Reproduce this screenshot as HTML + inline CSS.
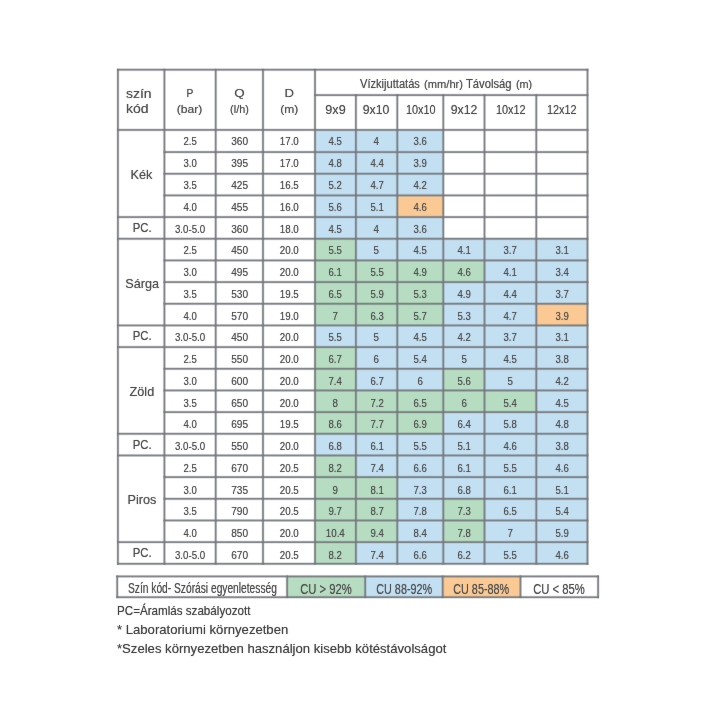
<!DOCTYPE html>
<html lang="hu"><head><meta charset="utf-8"><title>Táblázat</title><style>
html,body{margin:0;padding:0;background:#fff;}
body{width:720px;height:720px;position:relative;overflow:hidden;font-family:"Liberation Sans",sans-serif;color:#525252;}
.r{position:absolute;}
.t{position:absolute;height:20px;line-height:20px;white-space:nowrap;}
.t.c{width:300px;text-align:center;}
.t.l{text-align:left;}
.t span{display:inline-block;text-shadow:0 0 1px rgba(85,85,85,.7);}
.layer{position:absolute;left:0;top:0;width:720px;height:720px;}

.t.c span{transform-origin:50% 50%;}
.t.l span{transform-origin:0 50%;}
.h4 i{font-style:normal;font-size:10.5px;}
</style></head><body>
<svg class="layer g" width="720" height="720" viewBox="0 0 720 720">
<rect class="r" x="315.00" y="129.90" width="40.90" height="21.67" fill="#c3dff2"/>
<rect class="r" x="355.90" y="129.90" width="41.40" height="21.67" fill="#c3dff2"/>
<rect class="r" x="397.30" y="129.90" width="46.00" height="21.67" fill="#c3dff2"/>
<rect class="r" x="315.00" y="152.07" width="40.90" height="21.67" fill="#c3dff2"/>
<rect class="r" x="355.90" y="152.07" width="41.40" height="21.67" fill="#c3dff2"/>
<rect class="r" x="397.30" y="152.07" width="46.00" height="21.67" fill="#c3dff2"/>
<rect class="r" x="315.00" y="173.74" width="40.90" height="21.67" fill="#c3dff2"/>
<rect class="r" x="355.90" y="173.74" width="41.40" height="21.67" fill="#c3dff2"/>
<rect class="r" x="397.30" y="173.74" width="46.00" height="21.67" fill="#c3dff2"/>
<rect class="r" x="315.00" y="195.41" width="40.90" height="21.67" fill="#c3dff2"/>
<rect class="r" x="355.90" y="195.41" width="41.40" height="21.67" fill="#c3dff2"/>
<rect class="r" x="397.30" y="195.41" width="46.00" height="21.67" fill="#fbc993"/>
<rect class="r" x="315.00" y="217.08" width="40.90" height="21.67" fill="#c3dff2"/>
<rect class="r" x="355.90" y="217.08" width="41.40" height="21.67" fill="#c3dff2"/>
<rect class="r" x="397.30" y="217.08" width="46.00" height="21.67" fill="#c3dff2"/>
<rect class="r" x="315.00" y="238.75" width="40.90" height="21.67" fill="#b6ddc1"/>
<rect class="r" x="355.90" y="238.75" width="41.40" height="21.67" fill="#c3dff2"/>
<rect class="r" x="397.30" y="238.75" width="46.00" height="21.67" fill="#c3dff2"/>
<rect class="r" x="443.30" y="238.75" width="41.20" height="21.67" fill="#c3dff2"/>
<rect class="r" x="484.50" y="238.75" width="51.80" height="21.67" fill="#c3dff2"/>
<rect class="r" x="536.30" y="238.75" width="51.20" height="21.67" fill="#c3dff2"/>
<rect class="r" x="315.00" y="260.42" width="40.90" height="21.67" fill="#b6ddc1"/>
<rect class="r" x="355.90" y="260.42" width="41.40" height="21.67" fill="#b6ddc1"/>
<rect class="r" x="397.30" y="260.42" width="46.00" height="21.67" fill="#b6ddc1"/>
<rect class="r" x="443.30" y="260.42" width="41.20" height="21.67" fill="#b6ddc1"/>
<rect class="r" x="484.50" y="260.42" width="51.80" height="21.67" fill="#c3dff2"/>
<rect class="r" x="536.30" y="260.42" width="51.20" height="21.67" fill="#c3dff2"/>
<rect class="r" x="315.00" y="282.09" width="40.90" height="21.67" fill="#b6ddc1"/>
<rect class="r" x="355.90" y="282.09" width="41.40" height="21.67" fill="#b6ddc1"/>
<rect class="r" x="397.30" y="282.09" width="46.00" height="21.67" fill="#b6ddc1"/>
<rect class="r" x="443.30" y="282.09" width="41.20" height="21.67" fill="#c3dff2"/>
<rect class="r" x="484.50" y="282.09" width="51.80" height="21.67" fill="#c3dff2"/>
<rect class="r" x="536.30" y="282.09" width="51.20" height="21.67" fill="#c3dff2"/>
<rect class="r" x="315.00" y="303.76" width="40.90" height="21.67" fill="#b6ddc1"/>
<rect class="r" x="355.90" y="303.76" width="41.40" height="21.67" fill="#b6ddc1"/>
<rect class="r" x="397.30" y="303.76" width="46.00" height="21.67" fill="#b6ddc1"/>
<rect class="r" x="443.30" y="303.76" width="41.20" height="21.67" fill="#c3dff2"/>
<rect class="r" x="484.50" y="303.76" width="51.80" height="21.67" fill="#c3dff2"/>
<rect class="r" x="536.30" y="303.76" width="51.20" height="21.67" fill="#fbc993"/>
<rect class="r" x="315.00" y="325.43" width="40.90" height="21.67" fill="#c3dff2"/>
<rect class="r" x="355.90" y="325.43" width="41.40" height="21.67" fill="#c3dff2"/>
<rect class="r" x="397.30" y="325.43" width="46.00" height="21.67" fill="#c3dff2"/>
<rect class="r" x="443.30" y="325.43" width="41.20" height="21.67" fill="#c3dff2"/>
<rect class="r" x="484.50" y="325.43" width="51.80" height="21.67" fill="#c3dff2"/>
<rect class="r" x="536.30" y="325.43" width="51.20" height="21.67" fill="#c3dff2"/>
<rect class="r" x="315.00" y="347.10" width="40.90" height="21.67" fill="#b6ddc1"/>
<rect class="r" x="355.90" y="347.10" width="41.40" height="21.67" fill="#c3dff2"/>
<rect class="r" x="397.30" y="347.10" width="46.00" height="21.67" fill="#c3dff2"/>
<rect class="r" x="443.30" y="347.10" width="41.20" height="21.67" fill="#c3dff2"/>
<rect class="r" x="484.50" y="347.10" width="51.80" height="21.67" fill="#c3dff2"/>
<rect class="r" x="536.30" y="347.10" width="51.20" height="21.67" fill="#c3dff2"/>
<rect class="r" x="315.00" y="368.77" width="40.90" height="21.67" fill="#b6ddc1"/>
<rect class="r" x="355.90" y="368.77" width="41.40" height="21.67" fill="#c3dff2"/>
<rect class="r" x="397.30" y="368.77" width="46.00" height="21.67" fill="#c3dff2"/>
<rect class="r" x="443.30" y="368.77" width="41.20" height="21.67" fill="#b6ddc1"/>
<rect class="r" x="484.50" y="368.77" width="51.80" height="21.67" fill="#c3dff2"/>
<rect class="r" x="536.30" y="368.77" width="51.20" height="21.67" fill="#c3dff2"/>
<rect class="r" x="315.00" y="390.44" width="40.90" height="21.67" fill="#b6ddc1"/>
<rect class="r" x="355.90" y="390.44" width="41.40" height="21.67" fill="#b6ddc1"/>
<rect class="r" x="397.30" y="390.44" width="46.00" height="21.67" fill="#b6ddc1"/>
<rect class="r" x="443.30" y="390.44" width="41.20" height="21.67" fill="#b6ddc1"/>
<rect class="r" x="484.50" y="390.44" width="51.80" height="21.67" fill="#b6ddc1"/>
<rect class="r" x="536.30" y="390.44" width="51.20" height="21.67" fill="#c3dff2"/>
<rect class="r" x="315.00" y="412.11" width="40.90" height="21.67" fill="#b6ddc1"/>
<rect class="r" x="355.90" y="412.11" width="41.40" height="21.67" fill="#b6ddc1"/>
<rect class="r" x="397.30" y="412.11" width="46.00" height="21.67" fill="#b6ddc1"/>
<rect class="r" x="443.30" y="412.11" width="41.20" height="21.67" fill="#c3dff2"/>
<rect class="r" x="484.50" y="412.11" width="51.80" height="21.67" fill="#c3dff2"/>
<rect class="r" x="536.30" y="412.11" width="51.20" height="21.67" fill="#c3dff2"/>
<rect class="r" x="315.00" y="433.78" width="40.90" height="21.67" fill="#c3dff2"/>
<rect class="r" x="355.90" y="433.78" width="41.40" height="21.67" fill="#c3dff2"/>
<rect class="r" x="397.30" y="433.78" width="46.00" height="21.67" fill="#c3dff2"/>
<rect class="r" x="443.30" y="433.78" width="41.20" height="21.67" fill="#c3dff2"/>
<rect class="r" x="484.50" y="433.78" width="51.80" height="21.67" fill="#c3dff2"/>
<rect class="r" x="536.30" y="433.78" width="51.20" height="21.67" fill="#c3dff2"/>
<rect class="r" x="315.00" y="455.45" width="40.90" height="21.67" fill="#b6ddc1"/>
<rect class="r" x="355.90" y="455.45" width="41.40" height="21.67" fill="#c3dff2"/>
<rect class="r" x="397.30" y="455.45" width="46.00" height="21.67" fill="#c3dff2"/>
<rect class="r" x="443.30" y="455.45" width="41.20" height="21.67" fill="#c3dff2"/>
<rect class="r" x="484.50" y="455.45" width="51.80" height="21.67" fill="#c3dff2"/>
<rect class="r" x="536.30" y="455.45" width="51.20" height="21.67" fill="#c3dff2"/>
<rect class="r" x="315.00" y="477.12" width="40.90" height="21.67" fill="#b6ddc1"/>
<rect class="r" x="355.90" y="477.12" width="41.40" height="21.67" fill="#b6ddc1"/>
<rect class="r" x="397.30" y="477.12" width="46.00" height="21.67" fill="#c3dff2"/>
<rect class="r" x="443.30" y="477.12" width="41.20" height="21.67" fill="#c3dff2"/>
<rect class="r" x="484.50" y="477.12" width="51.80" height="21.67" fill="#c3dff2"/>
<rect class="r" x="536.30" y="477.12" width="51.20" height="21.67" fill="#c3dff2"/>
<rect class="r" x="315.00" y="498.79" width="40.90" height="21.67" fill="#b6ddc1"/>
<rect class="r" x="355.90" y="498.79" width="41.40" height="21.67" fill="#b6ddc1"/>
<rect class="r" x="397.30" y="498.79" width="46.00" height="21.67" fill="#c3dff2"/>
<rect class="r" x="443.30" y="498.79" width="41.20" height="21.67" fill="#b6ddc1"/>
<rect class="r" x="484.50" y="498.79" width="51.80" height="21.67" fill="#c3dff2"/>
<rect class="r" x="536.30" y="498.79" width="51.20" height="21.67" fill="#c3dff2"/>
<rect class="r" x="315.00" y="520.46" width="40.90" height="21.67" fill="#b6ddc1"/>
<rect class="r" x="355.90" y="520.46" width="41.40" height="21.67" fill="#b6ddc1"/>
<rect class="r" x="397.30" y="520.46" width="46.00" height="21.67" fill="#c3dff2"/>
<rect class="r" x="443.30" y="520.46" width="41.20" height="21.67" fill="#b6ddc1"/>
<rect class="r" x="484.50" y="520.46" width="51.80" height="21.67" fill="#c3dff2"/>
<rect class="r" x="536.30" y="520.46" width="51.20" height="21.67" fill="#c3dff2"/>
<rect class="r" x="315.00" y="542.13" width="40.90" height="21.67" fill="#b6ddc1"/>
<rect class="r" x="355.90" y="542.13" width="41.40" height="21.67" fill="#c3dff2"/>
<rect class="r" x="397.30" y="542.13" width="46.00" height="21.67" fill="#c3dff2"/>
<rect class="r" x="443.30" y="542.13" width="41.20" height="21.67" fill="#c3dff2"/>
<rect class="r" x="484.50" y="542.13" width="51.80" height="21.67" fill="#c3dff2"/>
<rect class="r" x="536.30" y="542.13" width="51.20" height="21.67" fill="#c3dff2"/>
<rect class="r" x="117.05" y="68.15" width="471.30" height="3.10" fill="#74787c" fill-opacity="0.22"/>
<rect class="r" x="117.05" y="68.85" width="471.30" height="1.70" fill="#74787c" fill-opacity="0.85"/>
<rect class="r" x="314.15" y="93.55" width="274.20" height="3.10" fill="#74787c" fill-opacity="0.22"/>
<rect class="r" x="314.15" y="94.25" width="274.20" height="1.70" fill="#74787c" fill-opacity="0.85"/>
<rect class="r" x="117.05" y="128.35" width="471.30" height="3.10" fill="#74787c" fill-opacity="0.22"/>
<rect class="r" x="117.05" y="129.05" width="471.30" height="1.70" fill="#74787c" fill-opacity="0.85"/>
<rect class="r" x="163.55" y="150.52" width="424.80" height="3.10" fill="#74787c" fill-opacity="0.22"/>
<rect class="r" x="163.55" y="151.22" width="424.80" height="1.70" fill="#74787c" fill-opacity="0.85"/>
<rect class="r" x="163.55" y="172.19" width="424.80" height="3.10" fill="#74787c" fill-opacity="0.22"/>
<rect class="r" x="163.55" y="172.89" width="424.80" height="1.70" fill="#74787c" fill-opacity="0.85"/>
<rect class="r" x="163.55" y="193.86" width="424.80" height="3.10" fill="#74787c" fill-opacity="0.22"/>
<rect class="r" x="163.55" y="194.56" width="424.80" height="1.70" fill="#74787c" fill-opacity="0.85"/>
<rect class="r" x="117.05" y="215.53" width="471.30" height="3.10" fill="#74787c" fill-opacity="0.22"/>
<rect class="r" x="117.05" y="216.23" width="471.30" height="1.70" fill="#74787c" fill-opacity="0.85"/>
<rect class="r" x="117.05" y="237.20" width="471.30" height="3.10" fill="#74787c" fill-opacity="0.22"/>
<rect class="r" x="117.05" y="237.90" width="471.30" height="1.70" fill="#74787c" fill-opacity="0.85"/>
<rect class="r" x="163.55" y="258.87" width="424.80" height="3.10" fill="#74787c" fill-opacity="0.22"/>
<rect class="r" x="163.55" y="259.57" width="424.80" height="1.70" fill="#74787c" fill-opacity="0.85"/>
<rect class="r" x="163.55" y="280.54" width="424.80" height="3.10" fill="#74787c" fill-opacity="0.22"/>
<rect class="r" x="163.55" y="281.24" width="424.80" height="1.70" fill="#74787c" fill-opacity="0.85"/>
<rect class="r" x="163.55" y="302.21" width="424.80" height="3.10" fill="#74787c" fill-opacity="0.22"/>
<rect class="r" x="163.55" y="302.91" width="424.80" height="1.70" fill="#74787c" fill-opacity="0.85"/>
<rect class="r" x="117.05" y="323.88" width="471.30" height="3.10" fill="#74787c" fill-opacity="0.22"/>
<rect class="r" x="117.05" y="324.58" width="471.30" height="1.70" fill="#74787c" fill-opacity="0.85"/>
<rect class="r" x="117.05" y="345.55" width="471.30" height="3.10" fill="#74787c" fill-opacity="0.22"/>
<rect class="r" x="117.05" y="346.25" width="471.30" height="1.70" fill="#74787c" fill-opacity="0.85"/>
<rect class="r" x="163.55" y="367.22" width="424.80" height="3.10" fill="#74787c" fill-opacity="0.22"/>
<rect class="r" x="163.55" y="367.92" width="424.80" height="1.70" fill="#74787c" fill-opacity="0.85"/>
<rect class="r" x="163.55" y="388.89" width="424.80" height="3.10" fill="#74787c" fill-opacity="0.22"/>
<rect class="r" x="163.55" y="389.59" width="424.80" height="1.70" fill="#74787c" fill-opacity="0.85"/>
<rect class="r" x="163.55" y="410.56" width="424.80" height="3.10" fill="#74787c" fill-opacity="0.22"/>
<rect class="r" x="163.55" y="411.26" width="424.80" height="1.70" fill="#74787c" fill-opacity="0.85"/>
<rect class="r" x="117.05" y="432.23" width="471.30" height="3.10" fill="#74787c" fill-opacity="0.22"/>
<rect class="r" x="117.05" y="432.93" width="471.30" height="1.70" fill="#74787c" fill-opacity="0.85"/>
<rect class="r" x="117.05" y="453.90" width="471.30" height="3.10" fill="#74787c" fill-opacity="0.22"/>
<rect class="r" x="117.05" y="454.60" width="471.30" height="1.70" fill="#74787c" fill-opacity="0.85"/>
<rect class="r" x="163.55" y="475.57" width="424.80" height="3.10" fill="#74787c" fill-opacity="0.22"/>
<rect class="r" x="163.55" y="476.27" width="424.80" height="1.70" fill="#74787c" fill-opacity="0.85"/>
<rect class="r" x="163.55" y="497.24" width="424.80" height="3.10" fill="#74787c" fill-opacity="0.22"/>
<rect class="r" x="163.55" y="497.94" width="424.80" height="1.70" fill="#74787c" fill-opacity="0.85"/>
<rect class="r" x="163.55" y="518.91" width="424.80" height="3.10" fill="#74787c" fill-opacity="0.22"/>
<rect class="r" x="163.55" y="519.61" width="424.80" height="1.70" fill="#74787c" fill-opacity="0.85"/>
<rect class="r" x="117.05" y="540.58" width="471.30" height="3.10" fill="#74787c" fill-opacity="0.22"/>
<rect class="r" x="117.05" y="541.28" width="471.30" height="1.70" fill="#74787c" fill-opacity="0.85"/>
<rect class="r" x="117.05" y="562.25" width="471.30" height="3.10" fill="#74787c" fill-opacity="0.22"/>
<rect class="r" x="117.05" y="562.95" width="471.30" height="1.70" fill="#74787c" fill-opacity="0.85"/>
<rect class="r" x="116.35" y="68.85" width="3.10" height="495.80" fill="#74787c" fill-opacity="0.22"/>
<rect class="r" x="117.05" y="68.85" width="1.70" height="495.80" fill="#74787c" fill-opacity="0.85"/>
<rect class="r" x="162.85" y="68.85" width="3.10" height="495.80" fill="#74787c" fill-opacity="0.22"/>
<rect class="r" x="163.55" y="68.85" width="1.70" height="495.80" fill="#74787c" fill-opacity="0.85"/>
<rect class="r" x="214.15" y="68.85" width="3.10" height="495.80" fill="#74787c" fill-opacity="0.22"/>
<rect class="r" x="214.85" y="68.85" width="1.70" height="495.80" fill="#74787c" fill-opacity="0.85"/>
<rect class="r" x="261.45" y="68.85" width="3.10" height="495.80" fill="#74787c" fill-opacity="0.22"/>
<rect class="r" x="262.15" y="68.85" width="1.70" height="495.80" fill="#74787c" fill-opacity="0.85"/>
<rect class="r" x="313.45" y="68.85" width="3.10" height="495.80" fill="#74787c" fill-opacity="0.22"/>
<rect class="r" x="314.15" y="68.85" width="1.70" height="495.80" fill="#74787c" fill-opacity="0.85"/>
<rect class="r" x="354.35" y="94.25" width="3.10" height="470.40" fill="#74787c" fill-opacity="0.22"/>
<rect class="r" x="355.05" y="94.25" width="1.70" height="470.40" fill="#74787c" fill-opacity="0.85"/>
<rect class="r" x="395.75" y="94.25" width="3.10" height="470.40" fill="#74787c" fill-opacity="0.22"/>
<rect class="r" x="396.45" y="94.25" width="1.70" height="470.40" fill="#74787c" fill-opacity="0.85"/>
<rect class="r" x="441.75" y="94.25" width="3.10" height="470.40" fill="#74787c" fill-opacity="0.22"/>
<rect class="r" x="442.45" y="94.25" width="1.70" height="470.40" fill="#74787c" fill-opacity="0.85"/>
<rect class="r" x="482.95" y="94.25" width="3.10" height="470.40" fill="#74787c" fill-opacity="0.22"/>
<rect class="r" x="483.65" y="94.25" width="1.70" height="470.40" fill="#74787c" fill-opacity="0.85"/>
<rect class="r" x="534.75" y="94.25" width="3.10" height="470.40" fill="#74787c" fill-opacity="0.22"/>
<rect class="r" x="535.45" y="94.25" width="1.70" height="470.40" fill="#74787c" fill-opacity="0.85"/>
<rect class="r" x="585.95" y="68.85" width="3.10" height="495.80" fill="#74787c" fill-opacity="0.22"/>
<rect class="r" x="586.65" y="68.85" width="1.70" height="495.80" fill="#74787c" fill-opacity="0.85"/>
<rect class="r" x="287.10" y="576.40" width="78.10" height="20.80" fill="#b6ddc1"/>
<rect class="r" x="365.20" y="576.40" width="77.50" height="20.80" fill="#c3dff2"/>
<rect class="r" x="442.70" y="576.40" width="77.80" height="20.80" fill="#fbc993"/>
<rect class="r" x="116.35" y="574.85" width="482.60" height="3.10" fill="#74787c" fill-opacity="0.22"/>
<rect class="r" x="116.35" y="575.55" width="482.60" height="1.70" fill="#74787c" fill-opacity="0.85"/>
<rect class="r" x="116.35" y="595.65" width="482.60" height="3.10" fill="#74787c" fill-opacity="0.22"/>
<rect class="r" x="116.35" y="596.35" width="482.60" height="1.70" fill="#74787c" fill-opacity="0.85"/>
<rect class="r" x="115.65" y="575.55" width="3.10" height="22.50" fill="#74787c" fill-opacity="0.22"/>
<rect class="r" x="116.35" y="575.55" width="1.70" height="22.50" fill="#74787c" fill-opacity="0.85"/>
<rect class="r" x="285.55" y="575.55" width="3.10" height="22.50" fill="#74787c" fill-opacity="0.22"/>
<rect class="r" x="286.25" y="575.55" width="1.70" height="22.50" fill="#74787c" fill-opacity="0.85"/>
<rect class="r" x="363.65" y="575.55" width="3.10" height="22.50" fill="#74787c" fill-opacity="0.22"/>
<rect class="r" x="364.35" y="575.55" width="1.70" height="22.50" fill="#74787c" fill-opacity="0.85"/>
<rect class="r" x="441.15" y="575.55" width="3.10" height="22.50" fill="#74787c" fill-opacity="0.22"/>
<rect class="r" x="441.85" y="575.55" width="1.70" height="22.50" fill="#74787c" fill-opacity="0.85"/>
<rect class="r" x="518.95" y="575.55" width="3.10" height="22.50" fill="#74787c" fill-opacity="0.22"/>
<rect class="r" x="519.65" y="575.55" width="1.70" height="22.50" fill="#74787c" fill-opacity="0.85"/>
<rect class="r" x="596.55" y="575.55" width="3.10" height="22.50" fill="#74787c" fill-opacity="0.22"/>
<rect class="r" x="597.25" y="575.55" width="1.70" height="22.50" fill="#74787c" fill-opacity="0.85"/>
</svg>
<div class="layer x">
<div class="t l " style="left:125.60px;top:84.12px;font-size:13.5px;"><span style="transform:scaleX(1.034)">szín</span></div>
<div class="t l " style="left:125.60px;top:98.52px;font-size:13.5px;"><span style="transform:scaleX(1.038)">kód</span></div>
<div class="t c " style="left:40.05px;top:82.98px;font-size:11.6px;"><span style="transform:scaleX(0.879)">P</span></div>
<div class="t c " style="left:40.05px;top:99.39px;font-size:11px;"><span style="transform:scaleX(1.102)">(bar)</span></div>
<div class="t c " style="left:89.35px;top:82.98px;font-size:11.6px;"><span style="transform:scaleX(1.153)">Q</span></div>
<div class="t c " style="left:89.35px;top:99.39px;font-size:11px;"><span style="transform:scaleX(0.987)">(l/h)</span></div>
<div class="t c " style="left:139.00px;top:82.98px;font-size:11.6px;"><span style="transform:scaleX(1.134)">D</span></div>
<div class="t c " style="left:139.00px;top:99.39px;font-size:11px;"><span style="transform:scaleX(1.098)">(m)</span></div>
<div class="t l " style="left:359.60px;top:73.84px;font-size:12px;"><span style="transform:scaleX(0.926)">Vízkijuttatás</span></div>
<div class="t l " style="left:423.60px;top:74.36px;font-size:10.5px;"><span style="transform:scaleX(1.062)">(mm/hr)</span></div>
<div class="t l " style="left:465.80px;top:73.84px;font-size:12px;"><span style="transform:scaleX(0.937)">Távolság</span></div>
<div class="t l " style="left:516.00px;top:74.36px;font-size:10.5px;"><span style="transform:scaleX(1.029)">(m)</span></div>
<div class="t c " style="left:185.45px;top:99.90px;font-size:13px;"><span style="transform:scaleX(0.973)">9x9</span></div>
<div class="t c " style="left:226.60px;top:99.90px;font-size:13px;"><span style="transform:scaleX(0.944)">9x10</span></div>
<div class="t c " style="left:270.30px;top:99.90px;font-size:13px;"><span style="transform:scaleX(0.836)">10x10</span></div>
<div class="t c " style="left:313.90px;top:99.90px;font-size:13px;"><span style="transform:scaleX(0.944)">9x12</span></div>
<div class="t c " style="left:360.40px;top:99.90px;font-size:13px;"><span style="transform:scaleX(0.836)">10x12</span></div>
<div class="t c " style="left:411.90px;top:99.90px;font-size:13px;"><span style="transform:scaleX(0.836)">12x12</span></div>
<div class="t c " style="left:40.05px;top:131.48px;font-size:11.6px;"><span style="transform:scaleX(0.827)">2.5</span></div>
<div class="t c " style="left:89.35px;top:131.48px;font-size:11.6px;"><span style="transform:scaleX(0.871)">360</span></div>
<div class="t c " style="left:139.00px;top:131.48px;font-size:11.6px;"><span style="transform:scaleX(0.844)">17.0</span></div>
<div class="t c " style="left:185.45px;top:131.48px;font-size:11.6px;"><span style="transform:scaleX(0.827)">4.5</span></div>
<div class="t c " style="left:226.60px;top:131.48px;font-size:11.6px;"><span style="transform:scaleX(0.840)">4</span></div>
<div class="t c " style="left:270.30px;top:131.48px;font-size:11.6px;"><span style="transform:scaleX(0.827)">3.6</span></div>
<div class="t c " style="left:40.05px;top:153.24px;font-size:11.6px;"><span style="transform:scaleX(0.827)">3.0</span></div>
<div class="t c " style="left:89.35px;top:153.24px;font-size:11.6px;"><span style="transform:scaleX(0.871)">395</span></div>
<div class="t c " style="left:139.00px;top:153.24px;font-size:11.6px;"><span style="transform:scaleX(0.844)">17.0</span></div>
<div class="t c " style="left:185.45px;top:153.24px;font-size:11.6px;"><span style="transform:scaleX(0.827)">4.8</span></div>
<div class="t c " style="left:226.60px;top:153.24px;font-size:11.6px;"><span style="transform:scaleX(0.827)">4.4</span></div>
<div class="t c " style="left:270.30px;top:153.24px;font-size:11.6px;"><span style="transform:scaleX(0.827)">3.9</span></div>
<div class="t c " style="left:40.05px;top:175.00px;font-size:11.6px;"><span style="transform:scaleX(0.827)">3.5</span></div>
<div class="t c " style="left:89.35px;top:175.00px;font-size:11.6px;"><span style="transform:scaleX(0.871)">425</span></div>
<div class="t c " style="left:139.00px;top:175.00px;font-size:11.6px;"><span style="transform:scaleX(0.844)">16.5</span></div>
<div class="t c " style="left:185.45px;top:175.00px;font-size:11.6px;"><span style="transform:scaleX(0.827)">5.2</span></div>
<div class="t c " style="left:226.60px;top:175.00px;font-size:11.6px;"><span style="transform:scaleX(0.827)">4.7</span></div>
<div class="t c " style="left:270.30px;top:175.00px;font-size:11.6px;"><span style="transform:scaleX(0.827)">4.2</span></div>
<div class="t c " style="left:40.05px;top:196.76px;font-size:11.6px;"><span style="transform:scaleX(0.827)">4.0</span></div>
<div class="t c " style="left:89.35px;top:196.76px;font-size:11.6px;"><span style="transform:scaleX(0.871)">455</span></div>
<div class="t c " style="left:139.00px;top:196.76px;font-size:11.6px;"><span style="transform:scaleX(0.844)">16.0</span></div>
<div class="t c " style="left:185.45px;top:196.76px;font-size:11.6px;"><span style="transform:scaleX(0.827)">5.6</span></div>
<div class="t c " style="left:226.60px;top:196.76px;font-size:11.6px;"><span style="transform:scaleX(0.827)">5.1</span></div>
<div class="t c " style="left:270.30px;top:196.76px;font-size:11.6px;"><span style="transform:scaleX(0.827)">4.6</span></div>
<div class="t c " style="left:40.05px;top:218.52px;font-size:11.6px;"><span style="transform:scaleX(0.836)">3.0-5.0</span></div>
<div class="t c " style="left:89.35px;top:218.52px;font-size:11.6px;"><span style="transform:scaleX(0.871)">360</span></div>
<div class="t c " style="left:139.00px;top:218.52px;font-size:11.6px;"><span style="transform:scaleX(0.844)">18.0</span></div>
<div class="t c " style="left:185.45px;top:218.52px;font-size:11.6px;"><span style="transform:scaleX(0.827)">4.5</span></div>
<div class="t c " style="left:226.60px;top:218.52px;font-size:11.6px;"><span style="transform:scaleX(0.840)">4</span></div>
<div class="t c " style="left:270.30px;top:218.52px;font-size:11.6px;"><span style="transform:scaleX(0.827)">3.6</span></div>
<div class="t c " style="left:-8.15px;top:218.09px;font-size:12.2px;"><span style="transform:scaleX(0.930)">PC.</span></div>
<div class="t c " style="left:40.05px;top:240.28px;font-size:11.6px;"><span style="transform:scaleX(0.827)">2.5</span></div>
<div class="t c " style="left:89.35px;top:240.28px;font-size:11.6px;"><span style="transform:scaleX(0.871)">450</span></div>
<div class="t c " style="left:139.00px;top:240.28px;font-size:11.6px;"><span style="transform:scaleX(0.844)">20.0</span></div>
<div class="t c " style="left:185.45px;top:240.28px;font-size:11.6px;"><span style="transform:scaleX(0.827)">5.5</span></div>
<div class="t c " style="left:226.60px;top:240.28px;font-size:11.6px;"><span style="transform:scaleX(0.840)">5</span></div>
<div class="t c " style="left:270.30px;top:240.28px;font-size:11.6px;"><span style="transform:scaleX(0.827)">4.5</span></div>
<div class="t c " style="left:313.90px;top:240.28px;font-size:11.6px;"><span style="transform:scaleX(0.827)">4.1</span></div>
<div class="t c " style="left:360.40px;top:240.28px;font-size:11.6px;"><span style="transform:scaleX(0.827)">3.7</span></div>
<div class="t c " style="left:411.90px;top:240.28px;font-size:11.6px;"><span style="transform:scaleX(0.827)">3.1</span></div>
<div class="t c " style="left:40.05px;top:262.04px;font-size:11.6px;"><span style="transform:scaleX(0.827)">3.0</span></div>
<div class="t c " style="left:89.35px;top:262.04px;font-size:11.6px;"><span style="transform:scaleX(0.871)">495</span></div>
<div class="t c " style="left:139.00px;top:262.04px;font-size:11.6px;"><span style="transform:scaleX(0.844)">20.0</span></div>
<div class="t c " style="left:185.45px;top:262.04px;font-size:11.6px;"><span style="transform:scaleX(0.827)">6.1</span></div>
<div class="t c " style="left:226.60px;top:262.04px;font-size:11.6px;"><span style="transform:scaleX(0.827)">5.5</span></div>
<div class="t c " style="left:270.30px;top:262.04px;font-size:11.6px;"><span style="transform:scaleX(0.827)">4.9</span></div>
<div class="t c " style="left:313.90px;top:262.04px;font-size:11.6px;"><span style="transform:scaleX(0.827)">4.6</span></div>
<div class="t c " style="left:360.40px;top:262.04px;font-size:11.6px;"><span style="transform:scaleX(0.827)">4.1</span></div>
<div class="t c " style="left:411.90px;top:262.04px;font-size:11.6px;"><span style="transform:scaleX(0.827)">3.4</span></div>
<div class="t c " style="left:40.05px;top:283.80px;font-size:11.6px;"><span style="transform:scaleX(0.827)">3.5</span></div>
<div class="t c " style="left:89.35px;top:283.80px;font-size:11.6px;"><span style="transform:scaleX(0.871)">530</span></div>
<div class="t c " style="left:139.00px;top:283.80px;font-size:11.6px;"><span style="transform:scaleX(0.844)">19.5</span></div>
<div class="t c " style="left:185.45px;top:283.80px;font-size:11.6px;"><span style="transform:scaleX(0.827)">6.5</span></div>
<div class="t c " style="left:226.60px;top:283.80px;font-size:11.6px;"><span style="transform:scaleX(0.827)">5.9</span></div>
<div class="t c " style="left:270.30px;top:283.80px;font-size:11.6px;"><span style="transform:scaleX(0.827)">5.3</span></div>
<div class="t c " style="left:313.90px;top:283.80px;font-size:11.6px;"><span style="transform:scaleX(0.827)">4.9</span></div>
<div class="t c " style="left:360.40px;top:283.80px;font-size:11.6px;"><span style="transform:scaleX(0.827)">4.4</span></div>
<div class="t c " style="left:411.90px;top:283.80px;font-size:11.6px;"><span style="transform:scaleX(0.827)">3.7</span></div>
<div class="t c " style="left:40.05px;top:305.56px;font-size:11.6px;"><span style="transform:scaleX(0.827)">4.0</span></div>
<div class="t c " style="left:89.35px;top:305.56px;font-size:11.6px;"><span style="transform:scaleX(0.871)">570</span></div>
<div class="t c " style="left:139.00px;top:305.56px;font-size:11.6px;"><span style="transform:scaleX(0.844)">19.0</span></div>
<div class="t c " style="left:185.45px;top:305.56px;font-size:11.6px;"><span style="transform:scaleX(0.840)">7</span></div>
<div class="t c " style="left:226.60px;top:305.56px;font-size:11.6px;"><span style="transform:scaleX(0.827)">6.3</span></div>
<div class="t c " style="left:270.30px;top:305.56px;font-size:11.6px;"><span style="transform:scaleX(0.827)">5.7</span></div>
<div class="t c " style="left:313.90px;top:305.56px;font-size:11.6px;"><span style="transform:scaleX(0.827)">5.3</span></div>
<div class="t c " style="left:360.40px;top:305.56px;font-size:11.6px;"><span style="transform:scaleX(0.827)">4.7</span></div>
<div class="t c " style="left:411.90px;top:305.56px;font-size:11.6px;"><span style="transform:scaleX(0.827)">3.9</span></div>
<div class="t c " style="left:40.05px;top:327.32px;font-size:11.6px;"><span style="transform:scaleX(0.836)">3.0-5.0</span></div>
<div class="t c " style="left:89.35px;top:327.32px;font-size:11.6px;"><span style="transform:scaleX(0.871)">450</span></div>
<div class="t c " style="left:139.00px;top:327.32px;font-size:11.6px;"><span style="transform:scaleX(0.844)">20.0</span></div>
<div class="t c " style="left:185.45px;top:327.32px;font-size:11.6px;"><span style="transform:scaleX(0.827)">5.5</span></div>
<div class="t c " style="left:226.60px;top:327.32px;font-size:11.6px;"><span style="transform:scaleX(0.840)">5</span></div>
<div class="t c " style="left:270.30px;top:327.32px;font-size:11.6px;"><span style="transform:scaleX(0.827)">4.5</span></div>
<div class="t c " style="left:313.90px;top:327.32px;font-size:11.6px;"><span style="transform:scaleX(0.827)">4.2</span></div>
<div class="t c " style="left:360.40px;top:327.32px;font-size:11.6px;"><span style="transform:scaleX(0.827)">3.7</span></div>
<div class="t c " style="left:411.90px;top:327.32px;font-size:11.6px;"><span style="transform:scaleX(0.827)">3.1</span></div>
<div class="t c " style="left:-8.15px;top:326.44px;font-size:12.2px;"><span style="transform:scaleX(0.930)">PC.</span></div>
<div class="t c " style="left:40.05px;top:349.08px;font-size:11.6px;"><span style="transform:scaleX(0.827)">2.5</span></div>
<div class="t c " style="left:89.35px;top:349.08px;font-size:11.6px;"><span style="transform:scaleX(0.871)">550</span></div>
<div class="t c " style="left:139.00px;top:349.08px;font-size:11.6px;"><span style="transform:scaleX(0.844)">20.0</span></div>
<div class="t c " style="left:185.45px;top:349.08px;font-size:11.6px;"><span style="transform:scaleX(0.827)">6.7</span></div>
<div class="t c " style="left:226.60px;top:349.08px;font-size:11.6px;"><span style="transform:scaleX(0.840)">6</span></div>
<div class="t c " style="left:270.30px;top:349.08px;font-size:11.6px;"><span style="transform:scaleX(0.827)">5.4</span></div>
<div class="t c " style="left:313.90px;top:349.08px;font-size:11.6px;"><span style="transform:scaleX(0.840)">5</span></div>
<div class="t c " style="left:360.40px;top:349.08px;font-size:11.6px;"><span style="transform:scaleX(0.827)">4.5</span></div>
<div class="t c " style="left:411.90px;top:349.08px;font-size:11.6px;"><span style="transform:scaleX(0.827)">3.8</span></div>
<div class="t c " style="left:40.05px;top:370.84px;font-size:11.6px;"><span style="transform:scaleX(0.827)">3.0</span></div>
<div class="t c " style="left:89.35px;top:370.84px;font-size:11.6px;"><span style="transform:scaleX(0.871)">600</span></div>
<div class="t c " style="left:139.00px;top:370.84px;font-size:11.6px;"><span style="transform:scaleX(0.844)">20.0</span></div>
<div class="t c " style="left:185.45px;top:370.84px;font-size:11.6px;"><span style="transform:scaleX(0.827)">7.4</span></div>
<div class="t c " style="left:226.60px;top:370.84px;font-size:11.6px;"><span style="transform:scaleX(0.827)">6.7</span></div>
<div class="t c " style="left:270.30px;top:370.84px;font-size:11.6px;"><span style="transform:scaleX(0.840)">6</span></div>
<div class="t c " style="left:313.90px;top:370.84px;font-size:11.6px;"><span style="transform:scaleX(0.827)">5.6</span></div>
<div class="t c " style="left:360.40px;top:370.84px;font-size:11.6px;"><span style="transform:scaleX(0.840)">5</span></div>
<div class="t c " style="left:411.90px;top:370.84px;font-size:11.6px;"><span style="transform:scaleX(0.827)">4.2</span></div>
<div class="t c " style="left:40.05px;top:392.60px;font-size:11.6px;"><span style="transform:scaleX(0.827)">3.5</span></div>
<div class="t c " style="left:89.35px;top:392.60px;font-size:11.6px;"><span style="transform:scaleX(0.871)">650</span></div>
<div class="t c " style="left:139.00px;top:392.60px;font-size:11.6px;"><span style="transform:scaleX(0.844)">20.0</span></div>
<div class="t c " style="left:185.45px;top:392.60px;font-size:11.6px;"><span style="transform:scaleX(0.840)">8</span></div>
<div class="t c " style="left:226.60px;top:392.60px;font-size:11.6px;"><span style="transform:scaleX(0.827)">7.2</span></div>
<div class="t c " style="left:270.30px;top:392.60px;font-size:11.6px;"><span style="transform:scaleX(0.827)">6.5</span></div>
<div class="t c " style="left:313.90px;top:392.60px;font-size:11.6px;"><span style="transform:scaleX(0.840)">6</span></div>
<div class="t c " style="left:360.40px;top:392.60px;font-size:11.6px;"><span style="transform:scaleX(0.827)">5.4</span></div>
<div class="t c " style="left:411.90px;top:392.60px;font-size:11.6px;"><span style="transform:scaleX(0.827)">4.5</span></div>
<div class="t c " style="left:40.05px;top:414.36px;font-size:11.6px;"><span style="transform:scaleX(0.827)">4.0</span></div>
<div class="t c " style="left:89.35px;top:414.36px;font-size:11.6px;"><span style="transform:scaleX(0.871)">695</span></div>
<div class="t c " style="left:139.00px;top:414.36px;font-size:11.6px;"><span style="transform:scaleX(0.844)">19.5</span></div>
<div class="t c " style="left:185.45px;top:414.36px;font-size:11.6px;"><span style="transform:scaleX(0.827)">8.6</span></div>
<div class="t c " style="left:226.60px;top:414.36px;font-size:11.6px;"><span style="transform:scaleX(0.827)">7.7</span></div>
<div class="t c " style="left:270.30px;top:414.36px;font-size:11.6px;"><span style="transform:scaleX(0.827)">6.9</span></div>
<div class="t c " style="left:313.90px;top:414.36px;font-size:11.6px;"><span style="transform:scaleX(0.827)">6.4</span></div>
<div class="t c " style="left:360.40px;top:414.36px;font-size:11.6px;"><span style="transform:scaleX(0.827)">5.8</span></div>
<div class="t c " style="left:411.90px;top:414.36px;font-size:11.6px;"><span style="transform:scaleX(0.827)">4.8</span></div>
<div class="t c " style="left:40.05px;top:436.12px;font-size:11.6px;"><span style="transform:scaleX(0.836)">3.0-5.0</span></div>
<div class="t c " style="left:89.35px;top:436.12px;font-size:11.6px;"><span style="transform:scaleX(0.871)">550</span></div>
<div class="t c " style="left:139.00px;top:436.12px;font-size:11.6px;"><span style="transform:scaleX(0.844)">20.0</span></div>
<div class="t c " style="left:185.45px;top:436.12px;font-size:11.6px;"><span style="transform:scaleX(0.827)">6.8</span></div>
<div class="t c " style="left:226.60px;top:436.12px;font-size:11.6px;"><span style="transform:scaleX(0.827)">6.1</span></div>
<div class="t c " style="left:270.30px;top:436.12px;font-size:11.6px;"><span style="transform:scaleX(0.827)">5.5</span></div>
<div class="t c " style="left:313.90px;top:436.12px;font-size:11.6px;"><span style="transform:scaleX(0.827)">5.1</span></div>
<div class="t c " style="left:360.40px;top:436.12px;font-size:11.6px;"><span style="transform:scaleX(0.827)">4.6</span></div>
<div class="t c " style="left:411.90px;top:436.12px;font-size:11.6px;"><span style="transform:scaleX(0.827)">3.8</span></div>
<div class="t c " style="left:-8.15px;top:434.79px;font-size:12.2px;"><span style="transform:scaleX(0.930)">PC.</span></div>
<div class="t c " style="left:40.05px;top:457.88px;font-size:11.6px;"><span style="transform:scaleX(0.827)">2.5</span></div>
<div class="t c " style="left:89.35px;top:457.88px;font-size:11.6px;"><span style="transform:scaleX(0.871)">670</span></div>
<div class="t c " style="left:139.00px;top:457.88px;font-size:11.6px;"><span style="transform:scaleX(0.844)">20.5</span></div>
<div class="t c " style="left:185.45px;top:457.88px;font-size:11.6px;"><span style="transform:scaleX(0.827)">8.2</span></div>
<div class="t c " style="left:226.60px;top:457.88px;font-size:11.6px;"><span style="transform:scaleX(0.827)">7.4</span></div>
<div class="t c " style="left:270.30px;top:457.88px;font-size:11.6px;"><span style="transform:scaleX(0.827)">6.6</span></div>
<div class="t c " style="left:313.90px;top:457.88px;font-size:11.6px;"><span style="transform:scaleX(0.827)">6.1</span></div>
<div class="t c " style="left:360.40px;top:457.88px;font-size:11.6px;"><span style="transform:scaleX(0.827)">5.5</span></div>
<div class="t c " style="left:411.90px;top:457.88px;font-size:11.6px;"><span style="transform:scaleX(0.827)">4.6</span></div>
<div class="t c " style="left:40.05px;top:479.64px;font-size:11.6px;"><span style="transform:scaleX(0.827)">3.0</span></div>
<div class="t c " style="left:89.35px;top:479.64px;font-size:11.6px;"><span style="transform:scaleX(0.871)">735</span></div>
<div class="t c " style="left:139.00px;top:479.64px;font-size:11.6px;"><span style="transform:scaleX(0.844)">20.5</span></div>
<div class="t c " style="left:185.45px;top:479.64px;font-size:11.6px;"><span style="transform:scaleX(0.840)">9</span></div>
<div class="t c " style="left:226.60px;top:479.64px;font-size:11.6px;"><span style="transform:scaleX(0.827)">8.1</span></div>
<div class="t c " style="left:270.30px;top:479.64px;font-size:11.6px;"><span style="transform:scaleX(0.827)">7.3</span></div>
<div class="t c " style="left:313.90px;top:479.64px;font-size:11.6px;"><span style="transform:scaleX(0.827)">6.8</span></div>
<div class="t c " style="left:360.40px;top:479.64px;font-size:11.6px;"><span style="transform:scaleX(0.827)">6.1</span></div>
<div class="t c " style="left:411.90px;top:479.64px;font-size:11.6px;"><span style="transform:scaleX(0.827)">5.1</span></div>
<div class="t c " style="left:40.05px;top:501.40px;font-size:11.6px;"><span style="transform:scaleX(0.827)">3.5</span></div>
<div class="t c " style="left:89.35px;top:501.40px;font-size:11.6px;"><span style="transform:scaleX(0.871)">790</span></div>
<div class="t c " style="left:139.00px;top:501.40px;font-size:11.6px;"><span style="transform:scaleX(0.844)">20.5</span></div>
<div class="t c " style="left:185.45px;top:501.40px;font-size:11.6px;"><span style="transform:scaleX(0.827)">9.7</span></div>
<div class="t c " style="left:226.60px;top:501.40px;font-size:11.6px;"><span style="transform:scaleX(0.827)">8.7</span></div>
<div class="t c " style="left:270.30px;top:501.40px;font-size:11.6px;"><span style="transform:scaleX(0.827)">7.8</span></div>
<div class="t c " style="left:313.90px;top:501.40px;font-size:11.6px;"><span style="transform:scaleX(0.827)">7.3</span></div>
<div class="t c " style="left:360.40px;top:501.40px;font-size:11.6px;"><span style="transform:scaleX(0.827)">6.5</span></div>
<div class="t c " style="left:411.90px;top:501.40px;font-size:11.6px;"><span style="transform:scaleX(0.827)">5.4</span></div>
<div class="t c " style="left:40.05px;top:523.16px;font-size:11.6px;"><span style="transform:scaleX(0.827)">4.0</span></div>
<div class="t c " style="left:89.35px;top:523.16px;font-size:11.6px;"><span style="transform:scaleX(0.871)">850</span></div>
<div class="t c " style="left:139.00px;top:523.16px;font-size:11.6px;"><span style="transform:scaleX(0.844)">20.0</span></div>
<div class="t c " style="left:185.45px;top:523.16px;font-size:11.6px;"><span style="transform:scaleX(0.844)">10.4</span></div>
<div class="t c " style="left:226.60px;top:523.16px;font-size:11.6px;"><span style="transform:scaleX(0.827)">9.4</span></div>
<div class="t c " style="left:270.30px;top:523.16px;font-size:11.6px;"><span style="transform:scaleX(0.827)">8.4</span></div>
<div class="t c " style="left:313.90px;top:523.16px;font-size:11.6px;"><span style="transform:scaleX(0.827)">7.8</span></div>
<div class="t c " style="left:360.40px;top:523.16px;font-size:11.6px;"><span style="transform:scaleX(0.840)">7</span></div>
<div class="t c " style="left:411.90px;top:523.16px;font-size:11.6px;"><span style="transform:scaleX(0.827)">5.9</span></div>
<div class="t c " style="left:40.05px;top:544.92px;font-size:11.6px;"><span style="transform:scaleX(0.836)">3.0-5.0</span></div>
<div class="t c " style="left:89.35px;top:544.92px;font-size:11.6px;"><span style="transform:scaleX(0.871)">670</span></div>
<div class="t c " style="left:139.00px;top:544.92px;font-size:11.6px;"><span style="transform:scaleX(0.844)">20.5</span></div>
<div class="t c " style="left:185.45px;top:544.92px;font-size:11.6px;"><span style="transform:scaleX(0.827)">8.2</span></div>
<div class="t c " style="left:226.60px;top:544.92px;font-size:11.6px;"><span style="transform:scaleX(0.827)">7.4</span></div>
<div class="t c " style="left:270.30px;top:544.92px;font-size:11.6px;"><span style="transform:scaleX(0.827)">6.6</span></div>
<div class="t c " style="left:313.90px;top:544.92px;font-size:11.6px;"><span style="transform:scaleX(0.827)">6.2</span></div>
<div class="t c " style="left:360.40px;top:544.92px;font-size:11.6px;"><span style="transform:scaleX(0.827)">5.5</span></div>
<div class="t c " style="left:411.90px;top:544.92px;font-size:11.6px;"><span style="transform:scaleX(0.827)">4.6</span></div>
<div class="t c " style="left:-8.15px;top:543.14px;font-size:12.2px;"><span style="transform:scaleX(0.930)">PC.</span></div>
<div class="t c " style="left:-8.05px;top:164.81px;font-size:12.2px;"><span style="transform:scaleX(1.040)">Kék</span></div>
<div class="t c " style="left:-8.05px;top:273.66px;font-size:12.2px;"><span style="transform:scaleX(1.040)">Sárga</span></div>
<div class="t c " style="left:-8.05px;top:382.01px;font-size:12.2px;"><span style="transform:scaleX(1.040)">Zöld</span></div>
<div class="t c " style="left:-8.05px;top:490.36px;font-size:12.2px;"><span style="transform:scaleX(1.040)">Piros</span></div>
<div class="t l " style="left:127.60px;top:578.08px;font-size:14.5px;"><span style="transform:scaleX(0.705)">Szín kód- Szórási egyenletesség</span></div>
<div class="t c " style="left:176.15px;top:578.51px;font-size:14.4px;"><span style="transform:scaleX(0.783)">CU &gt; 92%</span></div>
<div class="t c " style="left:253.95px;top:578.51px;font-size:14.4px;"><span style="transform:scaleX(0.751)">CU 88-92%</span></div>
<div class="t c " style="left:331.60px;top:578.51px;font-size:14.4px;"><span style="transform:scaleX(0.751)">CU 85-88%</span></div>
<div class="t c " style="left:409.30px;top:578.51px;font-size:14.4px;"><span style="transform:scaleX(0.783)">CU &lt; 85%</span></div>
<div class="t l " style="left:116.90px;top:600.90px;font-size:12.4px;color:#464646;"><span style="transform:scaleX(0.938)">PC=Áramlás szabályozott</span></div>
<div class="t l " style="left:116.90px;top:619.53px;font-size:13.2px;color:#464646;"><span style="transform:scaleX(0.994)">* Laboratoriumi környezetben</span></div>
<div class="t l " style="left:116.90px;top:639.03px;font-size:13.2px;color:#464646;"><span style="transform:scaleX(0.994)">*Szeles környezetben használjon kisebb kötéstávolságot</span></div>
</div>
</body></html>
